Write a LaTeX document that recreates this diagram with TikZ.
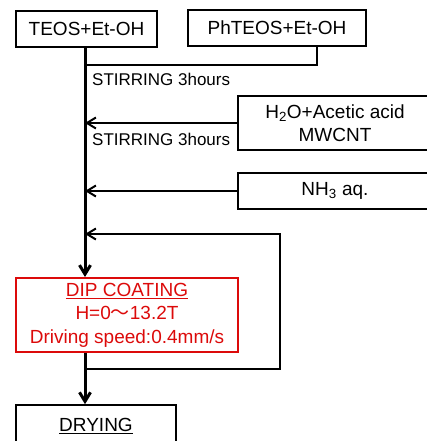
\documentclass[tikz,border=0pt]{standalone}
\usepackage{fontspec}
\setmainfont{Liberation Sans}
\newfontfamily\cjkfont{Noto Sans CJK JP}
\usetikzlibrary{positioning,calc,arrows.meta}
\definecolor{DipRed}{HTML}{DC0A0A}
\tikzset{
  stepbox/.style={draw,line width=1.6pt,inner sep=1pt,align=center,
    font=\fontsize{19}{23.5}\selectfont},
  mainline/.style={line width=3pt},
  sideline/.style={line width=2pt},
  barbtip/.style={-{Straight Barb[length=9pt,width=11pt]}},
  note/.style={anchor=west,inner sep=0pt,font=\fontsize{17}{20}\selectfont}
}

\begin{document}
\begin{tikzpicture}[x=1pt,y=-1pt]
  \useasboundingbox (0,0) rectangle (427,441);
  % raw materials
  \node[stepbox,minimum width=141,minimum height=36] (teos) at (86.5,29) {TEOS+Et-OH};
  \node[stepbox,minimum width=178,minimum height=36] (ph) at (277,28) {PhTEOS+Et-OH};
  \node[stepbox,minimum width=194,minimum height=54] (h2o) at (335,123)
     {H\textsubscript{2}O+Acetic acid\\MWCNT};
  \node[stepbox,minimum width=194,minimum height=36] (nh3) at (335,191) {NH\textsubscript{3} aq.};
  % process
  \node[stepbox,draw=DipRed,text=DipRed,minimum width=222,minimum height=74] (dip) at (127,315)
     {\underline{DIP COATING}\\H=0{\cjkfont ～}13.2T\\Driving speed:0.4mm/s};
  \node[stepbox,minimum width=160,minimum height=42] (dry) at (96,426) {\underline{DRYING}};
  \node[note] (stir1) at (92,79) {STIRRING 3hours};
  \node[note] (stir2) at (92,139) {STIRRING 3hours};
  % trunk x=85
  \coordinate (dipin) at (85,277);
  \coordinate (j1) at (85,65);
  \coordinate (phdrop) at (317,0);
  \coordinate (j4) at (85,234);
  \coordinate (j5) at (85,369);
  \coordinate (loopr) at (280,300);
  \draw[mainline,barbtip] (teos.south -| dipin) -- (dipin);
  \draw[sideline] (ph.south -| phdrop) |- (j1);
  \foreach \n in {h2o,nh3}{
     \draw[sideline,barbtip] (\n.west) -- (\n.west -| dipin);}
  % repeat loop
  \draw[sideline,barbtip] (j5) -| (loopr) |- (j4);
  \draw[mainline,barbtip] (dip.south -| dipin) -- (dry.north -| dipin);
\end{tikzpicture}
\end{document}
